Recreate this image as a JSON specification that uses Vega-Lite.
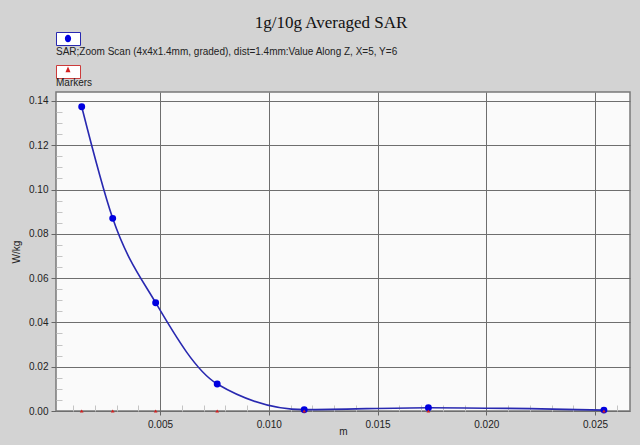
{
  "$schema": "https://vega.github.io/schema/vega-lite/v6.json",
  "width": 574,
  "height": 319,
  "autosize": {"type": "none"},
  "padding": {"left": 56, "top": 92, "right": 10, "bottom": 34},
  "background": "#d3d3d3",
  "config": {
    "view": {"fill": "#fafafa", "stroke": "#7a7a7a", "strokeWidth": 1.5},
    "font": "Liberation Sans"
  },
  "title": {
    "text": "1g/10g Averaged SAR",
    "font": "Liberation Serif",
    "fontSize": 17,
    "fontWeight": "normal",
    "color": "#111111",
    "anchor": "middle",
    "dx": -12,
    "offset": 8
  },
  "data": {
    "values": [
      {"x": 0.0014, "y": 0.1374, "series": "SAR;Zoom Scan (4x4x1.4mm, graded), dist=1.4mm:Value Along Z, X=5, Y=6", "box": "b1"},
      {"x": 0.002825, "y": 0.087, "series": "SAR;Zoom Scan (4x4x1.4mm, graded), dist=1.4mm:Value Along Z, X=5, Y=6", "box": "b1"},
      {"x": 0.0048, "y": 0.0489, "series": "SAR;Zoom Scan (4x4x1.4mm, graded), dist=1.4mm:Value Along Z, X=5, Y=6", "box": "b1"},
      {"x": 0.00763, "y": 0.0122, "series": "SAR;Zoom Scan (4x4x1.4mm, graded), dist=1.4mm:Value Along Z, X=5, Y=6", "box": "b1"},
      {"x": 0.01163, "y": 0.0006, "series": "SAR;Zoom Scan (4x4x1.4mm, graded), dist=1.4mm:Value Along Z, X=5, Y=6", "box": "b1"},
      {"x": 0.01734, "y": 0.0015, "series": "SAR;Zoom Scan (4x4x1.4mm, graded), dist=1.4mm:Value Along Z, X=5, Y=6", "box": "b1"},
      {"x": 0.02541, "y": 0.0004, "series": "SAR;Zoom Scan (4x4x1.4mm, graded), dist=1.4mm:Value Along Z, X=5, Y=6", "box": "b1"},
      {"x": 0.0014, "y": 0, "series": "Markers", "box": "b2"},
      {"x": 0.002825, "y": 0, "series": "Markers", "box": "b2"},
      {"x": 0.0048, "y": 0, "series": "Markers", "box": "b2"},
      {"x": 0.00763, "y": 0, "series": "Markers", "box": "b2"},
      {"x": 0.01163, "y": 0, "series": "Markers", "box": "b2"},
      {"x": 0.01734, "y": 0, "series": "Markers", "box": "b2"},
      {"x": 0.02541, "y": 0, "series": "Markers", "box": "b2"}
    ]
  },
  "encoding": {
    "x": {
      "field": "x",
      "type": "quantitative",
      "scale": {"domain": [0.000218, 0.026609], "nice": false, "zero": false},
      "axis": {
        "title": "m",
        "titleFont": "Liberation Sans",
        "titleFontSize": 10,
        "titleFontWeight": "normal",
        "titleColor": "#222222",
        "titlePadding": -3,
        "values": [0.001, 0.002, 0.003, 0.004, 0.005, 0.006, 0.007, 0.008, 0.009, 0.010, 0.011, 0.012, 0.013, 0.014, 0.015, 0.016, 0.017, 0.018, 0.019, 0.020, 0.021, 0.022, 0.023, 0.024, 0.025, 0.026],
        "labelExpr": "abs(datum.value*200 - round(datum.value*200)) < 0.000001 ? format(datum.value, '.3f') : ''",
        "labelOverlap": false,
        "labelFlush": false,
        "labelFont": "Liberation Sans",
        "labelFontSize": 10,
        "labelColor": "#222222",
        "labelPadding": 4,
        "domain": false,
        "grid": true,
        "gridColor": {"condition": {"test": "abs(datum.value*200 - round(datum.value*200)) < 0.000001", "value": "#6e6e6e"}, "value": "transparent"},
        "gridWidth": 1,
        "tickSize": {"condition": {"test": "abs(datum.value*200 - round(datum.value*200)) < 0.000001", "value": 4}, "value": -6},
        "tickColor": {"condition": {"test": "abs(datum.value*200 - round(datum.value*200)) < 0.000001", "value": "#666666"}, "value": "#c4c4c4"}
      }
    },
    "y": {
      "field": "y",
      "type": "quantitative",
      "scale": {"domain": [0, 0.14406], "nice": false, "zero": false},
      "axis": {
        "title": "W/kg",
        "titleFont": "Liberation Sans",
        "titleFontSize": 10,
        "titleFontWeight": "normal",
        "titleColor": "#222222",
        "titlePadding": 7,
        "values": [0, 0.005, 0.01, 0.015, 0.02, 0.025, 0.03, 0.035, 0.04, 0.045, 0.05, 0.055, 0.06, 0.065, 0.07, 0.075, 0.08, 0.085, 0.09, 0.095, 0.1, 0.105, 0.11, 0.115, 0.12, 0.125, 0.13, 0.135, 0.14],
        "labelExpr": "abs(datum.value*50 - round(datum.value*50)) < 0.000001 ? format(datum.value, '.2f') : ''",
        "labelOverlap": false,
        "labelFlush": false,
        "labelFont": "Liberation Sans",
        "labelFontSize": 10,
        "labelColor": "#222222",
        "labelPadding": 3,
        "domain": false,
        "grid": true,
        "gridColor": {"condition": {"test": "abs(datum.value*50 - round(datum.value*50)) < 0.000001", "value": "#6e6e6e"}, "value": "transparent"},
        "gridWidth": 1,
        "tickSize": {"condition": {"test": "abs(datum.value*50 - round(datum.value*50)) < 0.000001", "value": 5}, "value": -6},
        "tickColor": {"condition": {"test": "abs(datum.value*50 - round(datum.value*50)) < 0.000001", "value": "#666666"}, "value": "#c4c4c4"}
      }
    }
  },
  "layer": [
    {
      "transform": [{"filter": "datum.series != 'Markers'"}],
      "mark": {"type": "line", "interpolate": "monotone", "strokeWidth": 1.6},
      "encoding": {
        "stroke": {
          "field": "box",
          "type": "nominal",
          "scale": {"domain": ["b1", "b2"], "range": ["#2828b0", "#cc3b3b"]},
          "legend": {
            "orient": "none",
            "legendX": 0,
            "legendY": -52.5,
            "direction": "vertical",
            "padding": 0,
            "rowPadding": 6,
            "title": null,
            "zindex": 0,
            "symbolSize": 576,
            "symbolStrokeWidth": 1,
            "labelOpacity": 0,
            "labelFont": "Liberation Sans",
            "labelFontSize": 10,
            "labelOffset": -24,
            "encode": {
              "symbols": {"update": {
                "shape": {"value": "M-1,-1.625H1V-0.54H-1Z"},
                "size": {"value": 576},
                "fill": {"value": "#ffffff"},
                "opacity": {"value": 1}
              }}
            }
          }
        }
      }
    },
    {
      "transform": [{"filter": "datum.series != 'Markers'"}],
      "mark": {"type": "point", "filled": true, "opacity": 1, "size": 48, "shape": "circle", "color": "#0000e0"}
    },
    {
      "transform": [{"filter": "datum.series == 'Markers'"}],
      "mark": {"type": "point", "filled": true, "opacity": 1, "size": 14, "shape": "triangle-up", "color": "#d42020"}
    },
    {
      "mark": {"type": "point", "filled": true, "opacity": 1, "size": 0.001},
      "encoding": {
        "fill": {
          "field": "series",
          "type": "nominal",
          "scale": {"domain": ["SAR;Zoom Scan (4x4x1.4mm, graded), dist=1.4mm:Value Along Z, X=5, Y=6", "Markers"], "range": ["#0000e0", "#d42020"]},
          "legend": {
            "orient": "none",
            "legendX": 0,
            "legendY": -52.5,
            "direction": "vertical",
            "padding": 0,
            "rowPadding": 6,
            "title": null,
            "zindex": 1,
            "symbolSize": 576,
            "symbolStrokeWidth": 0,
            "labelFont": "Liberation Sans",
            "labelFontSize": 10,
            "labelColor": "#222222",
            "labelOffset": -24,
            "labelLimit": 600,
            "encode": {
              "symbols": {"update": {
                "size": {"value": 576},
                "opacity": {"value": 1}
              }}
            }
          }
        },
        "shape": {
          "field": "series",
          "type": "nominal",
          "scale": {"domain": ["SAR;Zoom Scan (4x4x1.4mm, graded), dist=1.4mm:Value Along Z, X=5, Y=6", "Markers"], "range": ["M-1,-1.625h0M1,-0.54h0M0,-1.403A0.26,0.32 0 1,1 0,-0.763A0.26,0.32 0 1,1 0,-1.403Z", "M-1,-1.625h0M1,-0.54h0M0,-1.33L0.21,-0.85H-0.21Z"]},
          "legend": {
            "orient": "none",
            "legendX": 0,
            "legendY": -52.5,
            "direction": "vertical",
            "padding": 0,
            "rowPadding": 6,
            "title": null,
            "zindex": 1,
            "symbolSize": 576,
            "symbolStrokeWidth": 0,
            "labelFont": "Liberation Sans",
            "labelFontSize": 10,
            "labelColor": "#222222",
            "labelOffset": -24,
            "labelLimit": 600,
            "encode": {
              "symbols": {"update": {
                "size": {"value": 576},
                "opacity": {"value": 1}
              }}
            }
          }
        }
      }
    }
  ]
}
